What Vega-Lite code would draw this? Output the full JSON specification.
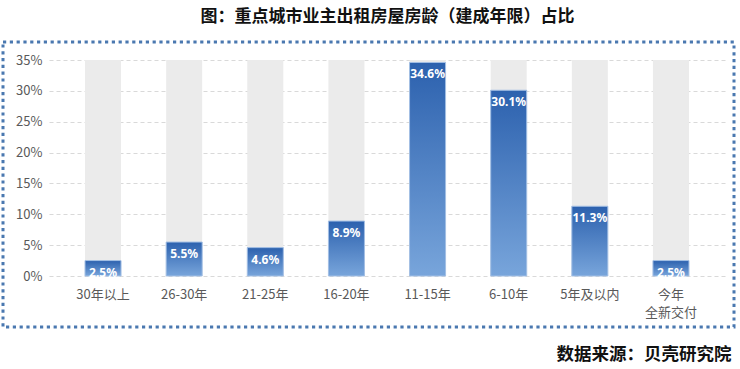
{
  "$schema": "https://vega.github.io/schema/vega-lite/v6.json",
  "width": 731,
  "height": 285,
  "autosize": {"type": "none"},
  "padding": {"left": 3, "top": 42, "right": 6, "bottom": 42},
  "background": "white",
  "config": {
    "font": "Noto Sans CJK SC",
    "view": {"stroke": "#4a78b0", "strokeWidth": 3, "strokeDash": [3.2, 3.6]}
  },
  "title": {
    "text": "图：重点城市业主出租房屋房龄（建成年限）占比",
    "font": "Noto Sans CJK SC",
    "fontSize": 17,
    "fontWeight": "bold",
    "color": "#111111",
    "anchor": "middle",
    "dx": 19,
    "offset": 16
  },
  "data": {
    "values": [
      {"age": "30年以上", "share": 0.025},
      {"age": "26-30年", "share": 0.055},
      {"age": "21-25年", "share": 0.046},
      {"age": "16-20年", "share": 0.089},
      {"age": "11-15年", "share": 0.346},
      {"age": "6-10年", "share": 0.301},
      {"age": "5年及以内", "share": 0.113},
      {"age": "今年全新交付", "share": 0.025}
    ]
  },
  "encoding": {
    "x": {
      "field": "age",
      "type": "nominal",
      "sort": null,
      "scale": {"range": [46, 722], "paddingInner": 0.556, "paddingOuter": 0.444},
      "axis": {
        "orient": "bottom",
        "offset": -51,
        "domain": false,
        "ticks": false,
        "grid": false,
        "labelAngle": 0,
        "labelPadding": 12,
        "labelFontSize": 13,
        "labelColor": "#595959",
        "labelLineHeight": 18,
        "labelExpr": "datum.value == '今年全新交付' ? ['今年', '全新交付'] : datum.value",
        "title": "数据来源：贝壳研究院",
        "titleFontSize": 17.5,
        "titleFontWeight": "bold",
        "titleColor": "#111111",
        "titleAlign": "right",
        "titleBaseline": "middle",
        "titleX": 728,
        "titleY": 78
      }
    }
  },
  "layer": [
    {
      "mark": {"type": "bar", "color": "#ebebeb"},
      "encoding": {
        "y": {
          "datum": 0.35,
          "type": "quantitative",
          "scale": {"domain": [0, 0.35], "range": [234, 18], "nice": false},
          "axis": {
            "values": [0, 0.05, 0.1, 0.15, 0.2, 0.25, 0.3, 0.35],
            "format": ".0%",
            "offset": -43,
            "domain": false,
            "ticks": false,
            "labelPadding": 4,
            "labelFontSize": 13,
            "labelColor": "#595959",
            "grid": true,
            "gridColor": "#d9d9d9",
            "gridDash": [4, 3],
            "title": null
          }
        }
      }
    },
    {
      "mark": {
        "type": "bar",
        "stroke": "#a3bfe4",
        "strokeWidth": 1,
        "color": {
          "gradient": "linear",
          "x1": 0, "y1": 0, "x2": 0, "y2": 1,
          "stops": [
            {"offset": 0, "color": "#2c61ae"},
            {"offset": 1, "color": "#78a5db"}
          ]
        }
      },
      "encoding": {
        "y": {"field": "share", "type": "quantitative"}
      }
    },
    {
      "mark": {
        "type": "text",
        "color": "white",
        "font": "Noto Sans",
        "fontSize": 12,
        "fontWeight": "bold",
        "baseline": "middle",
        "dy": 12
      },
      "encoding": {
        "y": {"field": "share", "type": "quantitative"},
        "text": {"field": "share", "type": "quantitative", "format": ".1%"}
      }
    }
  ]
}
